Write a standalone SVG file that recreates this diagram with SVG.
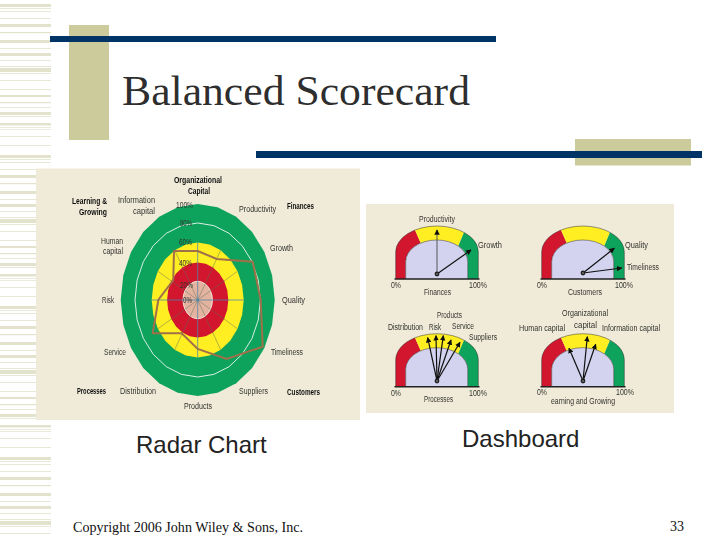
<svg xmlns="http://www.w3.org/2000/svg" xmlns:xlink="http://www.w3.org/1999/xlink" width="720" height="540" viewBox="0 0 720 540">
<style>
.serif{font-family:"Liberation Serif","Times New Roman",serif;fill:#111}
.sans{font-family:"Liberation Sans",Arial,sans-serif;fill:#222}
.lab{font-family:"Liberation Sans",Arial,sans-serif;font-size:8.5px;fill:#33332e}
.bd{font-family:"Liberation Sans",Arial,sans-serif;font-size:8.5px;font-weight:bold;fill:#111}
.navy{fill:#003366}
.khaki{fill:#cbcb9b}
.panel{fill:#f0ebd9}
.needle{stroke:#111;stroke-width:1.2;fill:none;marker-end:url(#arr)}
.spoke{stroke:#5f6f5a;stroke-width:.6;stroke-opacity:.8}
.axis{stroke:#4f86a8;stroke-width:.8}
.ring{vector-effect:non-scaling-stroke}
</style>
<defs>
<pattern id="stripes" width="60" height="151" patternUnits="userSpaceOnUse">
<g fill="#e3e3cd">
<rect y="4" width="60" height="3"/><rect y="8" width="60" height=".8"/><rect y="11" width="60" height=".8"/><rect y="18" width="60" height=".8"/>
<rect y="24" width="60" height="3"/><rect y="32" width="60" height="1.2"/><rect y="40" width="60" height="3"/><rect y="48" width="60" height=".8"/>
<rect y="53" width="60" height="3"/><rect y="60" width="60" height=".8"/><rect y="66" width="60" height=".8"/><rect y="68" width="60" height="4"/>
<rect y="73" width="60" height=".8"/><rect y="80" width="60" height=".8"/><rect y="89" width="60" height=".8"/><rect y="95" width="60" height="2"/>
<rect y="102" width="60" height="1.2"/><rect y="107" width="60" height=".8"/><rect y="112" width="60" height="3"/><rect y="116" width="60" height=".8"/>
<rect y="123" width="60" height="2.5"/><rect y="127" width="60" height=".7"/><rect y="129" width="60" height=".7"/><rect y="136" width="60" height=".8"/><rect y="145" width="60" height=".8"/>
</g>
</pattern>
<polygon id="ring" class="ring" points="0,-1 .2588,-.9659 .5,-.866 .7071,-.7071 .866,-.5 .9659,-.2588 1,0 .9659,.2588 .866,.5 .7071,.7071 .5,.866 .2588,.9659 0,1 -.2588,.9659 -.5,.866 -.7071,.7071 -.866,.5 -.9659,.2588 -1,0 -.9659,-.2588 -.866,-.5 -.7071,-.7071 -.5,-.866 -.2588,-.9659"/>
<marker id="arr" viewBox="0 0 8 8" refX="7" refY="4" markerWidth="5.500" markerHeight="5.500" markerUnits="userSpaceOnUse" orient="auto"><path d="M0 0L8 4L0 8Z" fill="#111"/></marker>
<filter id="soft" x="-2%" y="-2%" width="104%" height="104%"><feGaussianBlur stdDeviation=".35"/></filter>
<g id="gauge">
<path d="M395.7 279V252A41.3 26 0 0 1 415 230L420.7 243.1A31 21.7 0 0 0 405.7 261.7V279Z" fill="#d2142e"/>
<path d="M415 230A41.3 26 0 0 1 464 232.5L458.3 246.1A31 21.7 0 0 0 420.7 243.1Z" fill="#ffee22"/>
<path d="M464 232.5A41.3 26 0 0 1 478.3 252V279H467.7V261.7A31 21.7 0 0 0 458.3 246.1Z" fill="#0ba35c"/>
<path d="M405.7 279V261.7A31 21.7 0 0 1 467.7 261.7V279Z" fill="#d3d3ef"/>
<path d="M395.7 279V252A41.3 26 0 0 1 478.3 252V279M405.7 279V261.7A31 21.7 0 0 1 467.7 261.7V279" fill="none" stroke="#333" stroke-width=".5"/>
<path d="M394.5 279H479.5" stroke="#222" stroke-width="1.500"/>
</g>
<g id="pivot"><circle r="2.400" fill="#222"/><circle r=".9" fill="#777"/></g>
</defs>

<rect width="720" height="540" fill="#fff"/>
<g id="stripe-band"><rect x="0" y="0" width="51" height="537" fill="url(#stripes)"/></g>
<g id="title-bar">
<rect class="khaki" x="69" y="25" width="40" height="115"/>
<rect class="navy" x="50" y="36" width="446" height="6"/>
</g>
<g id="rule-bar">
<rect class="khaki" x="575" y="139" width="116" height="26.500"/>
<rect class="navy" x="256" y="151" width="446" height="7"/>
</g>
<g id="title"><text class="serif" x="122" y="105" font-size="42" textLength="348" lengthAdjust="spacingAndGlyphs" fill-opacity=".9">Balanced Scorecard</text></g>

<g id="radar-chart">
<rect class="panel" x="36" y="168.500" width="324" height="251.500"/>
<g filter="url(#soft)">
<use href="#ring" xlink:href="#ring" transform="translate(197.7 300) scale(77 96)" fill="#0ba35c"/>
<use href="#ring" xlink:href="#ring" transform="translate(197.7 300) scale(62.700 77)" fill="none" stroke="#d8f0e4" stroke-width="1"/>
<use href="#ring" xlink:href="#ring" transform="translate(197.7 300) scale(46 57.500)" fill="#ffee22"/>
<use href="#ring" xlink:href="#ring" transform="translate(197.7 300) scale(30.600 37.500)" fill="#d2142e"/>
<use href="#ring" xlink:href="#ring" transform="translate(197.7 300) scale(14.700 18.700)" fill="#e3b3a0" stroke="#f3e6dc" stroke-width="1"/>
<g transform="translate(197.7 300)">
<path class="spoke" d="M-23-49.800L23 49.800M23-49.800L-23 49.800M-39.800-28.750L39.800 28.750M39.800-28.750L-39.800 28.750"/>
<path class="axis" d="M0-57.500V57.500M-46 0H46"/>
<circle r="1.300" fill="#4f86a8"/>
</g>
<polygon points="197.700,251 216.700,259 252.700,261.700 260.700,300 262.700,346.700 226.700,359 197.700,349 181.700,333.300 152.700,333.300 158.300,300 173.300,280 174,251" fill="none" stroke="#a0704a" stroke-width="2"/>
</g>
<g id="radar-labels" filter="url(#soft)">
<text class="bd" x="174" y="183" textLength="48" lengthAdjust="spacingAndGlyphs">Organizational</text>
<text class="bd" x="188" y="194" textLength="22" lengthAdjust="spacingAndGlyphs">Capital</text>
<text class="bd" x="72" y="204" textLength="35" lengthAdjust="spacingAndGlyphs">Learning &amp;</text>
<text class="bd" x="79" y="215" textLength="28" lengthAdjust="spacingAndGlyphs">Growing</text>
<text class="lab" x="118" y="203" textLength="37" lengthAdjust="spacingAndGlyphs">Information</text>
<text class="lab" x="133" y="214" textLength="22" lengthAdjust="spacingAndGlyphs">capital</text>
<text class="lab" x="176" y="208" textLength="17" lengthAdjust="spacingAndGlyphs">100%</text>
<text class="lab" x="180" y="226" textLength="12" lengthAdjust="spacingAndGlyphs">80%</text>
<text class="lab" x="179" y="245" textLength="13" lengthAdjust="spacingAndGlyphs">60%</text>
<text class="lab" x="179" y="266" textLength="13" lengthAdjust="spacingAndGlyphs">40%</text>
<text class="lab" x="180" y="288" textLength="13" lengthAdjust="spacingAndGlyphs">20%</text>
<text class="lab" x="183" y="303" textLength="9" lengthAdjust="spacingAndGlyphs">0%</text>
<text class="lab" x="239" y="212" textLength="37" lengthAdjust="spacingAndGlyphs">Productivity</text>
<text class="bd" x="287" y="209" textLength="27" lengthAdjust="spacingAndGlyphs">Finances</text>
<text class="lab" x="101" y="244" textLength="22" lengthAdjust="spacingAndGlyphs">Human</text>
<text class="lab" x="103" y="254" textLength="20" lengthAdjust="spacingAndGlyphs">capital</text>
<text class="lab" x="270" y="251" textLength="23" lengthAdjust="spacingAndGlyphs">Growth</text>
<text class="lab" x="102" y="303" textLength="12" lengthAdjust="spacingAndGlyphs">Risk</text>
<text class="lab" x="282" y="303" textLength="23" lengthAdjust="spacingAndGlyphs">Quality</text>
<text class="lab" x="104" y="355" textLength="22" lengthAdjust="spacingAndGlyphs">Service</text>
<text class="lab" x="271" y="355" textLength="32" lengthAdjust="spacingAndGlyphs">Timeliness</text>
<text class="bd" x="77" y="394" textLength="29" lengthAdjust="spacingAndGlyphs">Processes</text>
<text class="lab" x="120" y="394" textLength="36" lengthAdjust="spacingAndGlyphs">Distribution</text>
<text class="lab" x="239" y="394" textLength="29" lengthAdjust="spacingAndGlyphs">Suppliers</text>
<text class="bd" x="287" y="395" textLength="33" lengthAdjust="spacingAndGlyphs">Customers</text>
<text class="lab" x="184" y="409" textLength="28" lengthAdjust="spacingAndGlyphs">Products</text>
</g>
</g>

<g id="dashboard">
<rect class="panel" x="366" y="204" width="308" height="209"/>
<g id="gauge-finances" filter="url(#soft)">
<use href="#gauge" xlink:href="#gauge"/>
<path d="M437 274L437 230" stroke="#555" stroke-width="1" fill="none" marker-end="url(#arr)"/>
<path class="needle" d="M437 274L471 250"/>
<use href="#pivot" xlink:href="#pivot" x="437" y="274"/>
<text class="lab" x="419" y="222" textLength="36" lengthAdjust="spacingAndGlyphs">Productivity</text>
<text class="lab" x="478" y="248" textLength="24" lengthAdjust="spacingAndGlyphs">Growth</text>
<text class="lab" x="391" y="288" textLength="10" lengthAdjust="spacingAndGlyphs">0%</text>
<text class="lab" x="469" y="288" textLength="18" lengthAdjust="spacingAndGlyphs">100%</text>
<text class="lab" x="424" y="295" textLength="27" lengthAdjust="spacingAndGlyphs">Finances</text>
</g>
<g id="gauge-customers" filter="url(#soft)">
<use href="#gauge" xlink:href="#gauge" x="146"/>
<path class="needle" d="M583 273L614.300 248.300"/>
<path class="needle" d="M583 273L621.700 268"/>
<use href="#pivot" xlink:href="#pivot" x="583" y="273"/>
<text class="lab" x="625" y="248" textLength="23" lengthAdjust="spacingAndGlyphs">Quality</text>
<text class="lab" x="627" y="270" textLength="32" lengthAdjust="spacingAndGlyphs">Timeliness</text>
<text class="lab" x="537" y="288" textLength="10" lengthAdjust="spacingAndGlyphs">0%</text>
<text class="lab" x="615" y="288" textLength="18" lengthAdjust="spacingAndGlyphs">100%</text>
<text class="lab" x="568" y="295" textLength="34" lengthAdjust="spacingAndGlyphs">Customers</text>
</g>
<g id="gauge-processes" filter="url(#soft)">
<use href="#gauge" xlink:href="#gauge" y="107.700"/>
<path class="needle" d="M437 381L427.700 337.700"/>
<path class="needle" d="M437 381L436 335.700"/>
<path class="needle" d="M437 381L443.300 335.700"/>
<path class="needle" d="M437 381L451 340"/>
<path class="needle" d="M437 381L460 342.300"/>
<use href="#pivot" xlink:href="#pivot" x="437" y="381"/>
<text class="lab" x="437" y="318" textLength="25" lengthAdjust="spacingAndGlyphs">Products</text>
<text class="lab" x="388" y="330" textLength="35" lengthAdjust="spacingAndGlyphs">Distribution</text>
<text class="lab" x="429" y="330" textLength="12" lengthAdjust="spacingAndGlyphs">Risk</text>
<text class="lab" x="452" y="329" textLength="22" lengthAdjust="spacingAndGlyphs">Service</text>
<text class="lab" x="469" y="340" textLength="28" lengthAdjust="spacingAndGlyphs">Suppliers</text>
<text class="lab" x="391" y="396" textLength="10" lengthAdjust="spacingAndGlyphs">0%</text>
<text class="lab" x="469" y="396" textLength="18" lengthAdjust="spacingAndGlyphs">100%</text>
<text class="lab" x="424" y="402" textLength="29" lengthAdjust="spacingAndGlyphs">Processes</text>
</g>
<g id="gauge-learning" filter="url(#soft)">
<use href="#gauge" xlink:href="#gauge" x="146" y="107.700"/>
<path class="needle" d="M583 381L569 348.300"/>
<path class="needle" d="M583 381L587.300 336.700"/>
<path class="needle" d="M583 381L595.700 344.300"/>
<use href="#pivot" xlink:href="#pivot" x="583" y="381"/>
<text class="lab" x="562" y="316" textLength="46" lengthAdjust="spacingAndGlyphs">Organizational</text>
<text class="lab" x="574" y="328" textLength="23" lengthAdjust="spacingAndGlyphs">capital</text>
<text class="lab" x="519" y="331" textLength="46" lengthAdjust="spacingAndGlyphs">Human capital</text>
<text class="lab" x="602" y="331" textLength="58" lengthAdjust="spacingAndGlyphs">Information capital</text>
<text class="lab" x="537" y="395" textLength="10" lengthAdjust="spacingAndGlyphs">0%</text>
<text class="lab" x="616" y="395" textLength="18" lengthAdjust="spacingAndGlyphs">100%</text>
<text class="lab" x="551" y="404" textLength="64" lengthAdjust="spacingAndGlyphs">earning and Growing</text>
</g>
</g>

<g id="captions">
<text class="sans" x="136" y="453" font-size="24">Radar Chart</text>
<text class="sans" x="462" y="447" font-size="24">Dashboard</text>
<text class="serif" x="73" y="532" font-size="14" textLength="230" lengthAdjust="spacingAndGlyphs">Copyright 2006 John Wiley &amp; Sons, Inc.</text>
<text class="serif" x="670" y="531" font-size="14">33</text>
</g>
</svg>
